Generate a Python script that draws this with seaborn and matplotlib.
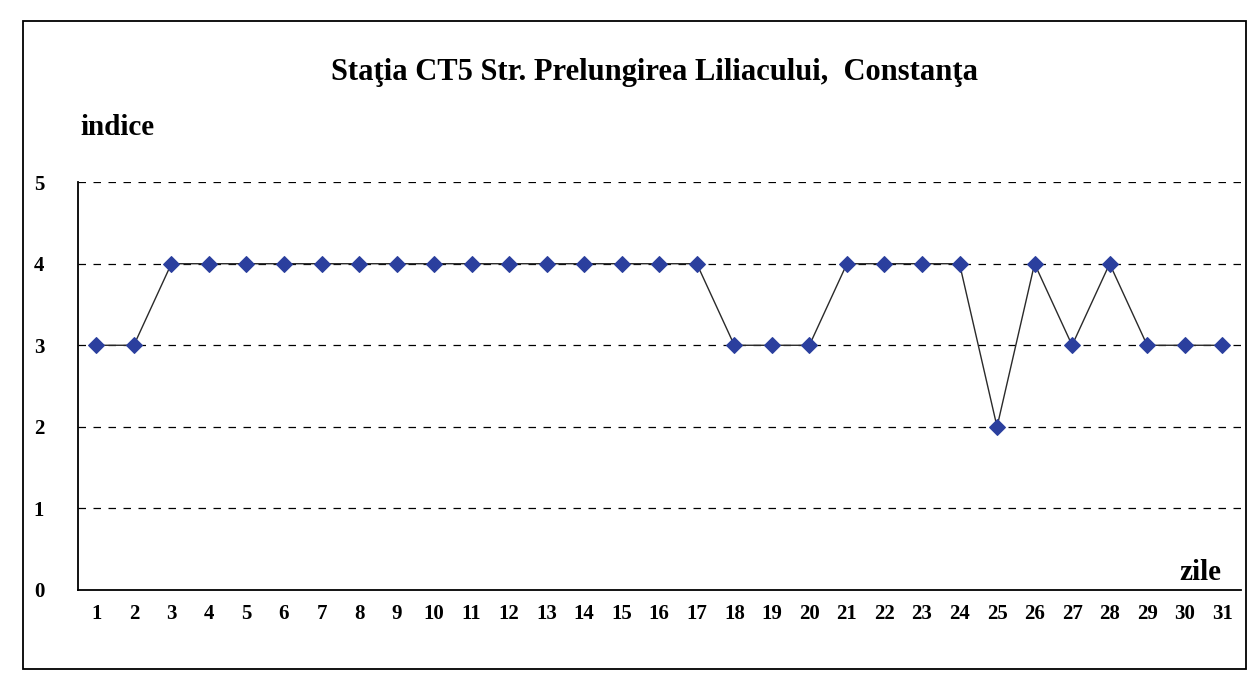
import matplotlib
matplotlib.use("Agg")
import matplotlib.pyplot as plt
import seaborn as sns
import pandas as pd
from matplotlib.patches import Rectangle

days = list(range(1, 32))
indice = [3, 3, 4, 4, 4, 4, 4, 4, 4, 4, 4, 4, 4, 4, 4, 4, 4,
          3, 3, 3, 4, 4, 4, 4, 2, 4, 3, 4, 3, 3, 3]
title = "Staţia CT5 Str. Prelungirea Liliacului,  Constanţa"

df = pd.DataFrame({"zi": days, "indice": indice})

sns.set_style("white")
plt.rcParams["font.family"] = ["Liberation Serif", "DejaVu Serif"]
plt.rcParams["text.color"] = "black"
plt.rcParams["xtick.color"] = "black"
plt.rcParams["ytick.color"] = "black"

fig = plt.figure(figsize=(12.51, 6.9), dpi=100)
ax = fig.add_axes([0.062, 0.145, 0.93, 0.591])

# dashed grid lines
for y in range(1, 6):
    ax.axhline(y, color="black", lw=0.9, ls=(0, (6, 6)), zorder=1)

sns.lineplot(data=df, x="zi", y="indice", ax=ax, color="#2a2a2a", lw=1.0,
             marker="D", markersize=8, markerfacecolor="#2b3f9e",
             markeredgecolor="#2b3f9e", zorder=3)

ax.set_xlim(0.5, 31.5)
ax.set_ylim(0, 5)
ax.set_xticks(days)
ax.set_xticklabels([str(d) for d in days], fontsize=15, fontweight="bold")
ax.set_xticks([d + 0.5 for d in range(0, 31)], minor=True)
ax.tick_params(axis="x", which="major", length=0, pad=10)
ax.tick_params(axis="x", which="minor", length=6, width=1.2, direction="out", color="black")
ax.set_yticks(range(0, 6))
ax.set_yticklabels([str(v) for v in range(0, 6)], fontsize=15, fontweight="bold")
ax.tick_params(axis="y", length=6, width=1.2, direction="out", color="black", pad=18)
ax.set_xlabel("")
ax.set_ylabel("")

for side in ["top", "right"]:
    ax.spines[side].set_visible(False)
for side in ["left", "bottom"]:
    ax.spines[side].set_color("black")
    ax.spines[side].set_linewidth(1.3)

fig.text(0.523, 0.895, title, ha="center", va="center", fontsize=22, fontweight="bold")
fig.text(0.064, 0.815, "indice", ha="left", va="center", fontsize=21, fontweight="bold")
fig.text(0.976, 0.15, "zile", ha="right", va="bottom", fontsize=21, fontweight="bold")

# outer chart border
fig.patches.append(Rectangle((0.018, 0.03), 0.978, 0.94, transform=fig.transFigure,
                             fill=False, edgecolor="black", lw=1.3))

fig.savefig("out.png", dpi=100)
